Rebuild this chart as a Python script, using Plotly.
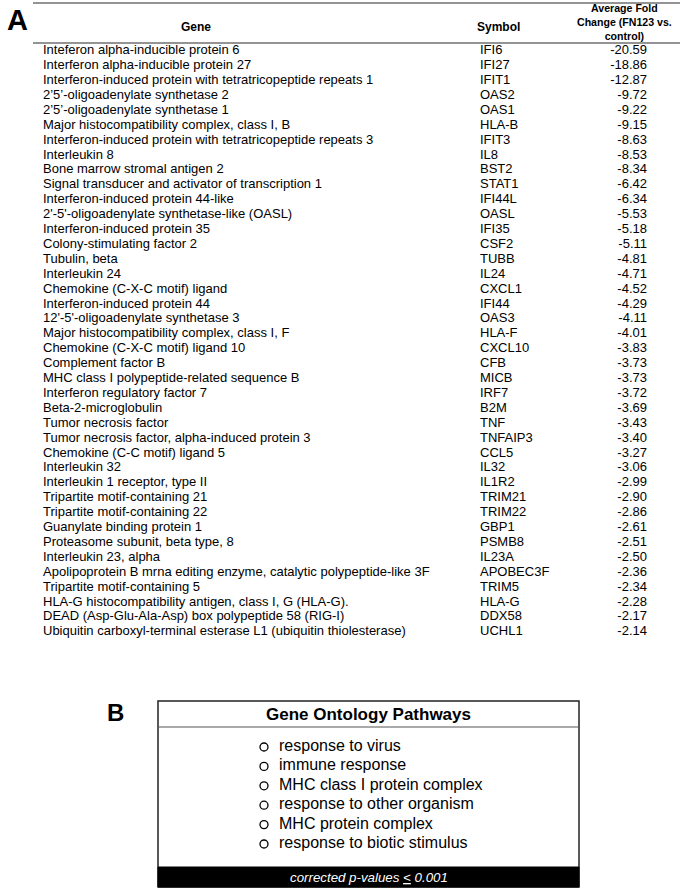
import plotly.graph_objects as go

genes = [
    "Inteferon alpha-inducible protein 6",
    "Interferon alpha-inducible protein 27",
    "Interferon-induced protein with tetratricopeptide repeats 1",
    "2’5’-oligoadenylate synthetase 2",
    "2’5’-oligoadenylate synthetase 1",
    "Major histocompatibility complex, class I, B",
    "Interferon-induced protein with tetratricopeptide repeats 3",
    "Interleukin 8",
    "Bone marrow stromal antigen 2",
    "Signal transducer and activator of transcription 1",
    "Interferon-induced protein 44-like",
    "2'-5'-oligoadenylate synthetase-like (OASL)",
    "Interferon-induced protein 35",
    "Colony-stimulating factor 2",
    "Tubulin, beta",
    "Interleukin 24",
    "Chemokine (C-X-C motif) ligand",
    "Interferon-induced protein 44",
    "12'-5'-oligoadenylate synthetase 3",
    "Major histocompatibility complex, class I, F",
    "Chemokine (C-X-C motif) ligand 10",
    "Complement factor B",
    "MHC class I polypeptide-related sequence B",
    "Interferon regulatory factor 7",
    "Beta-2-microglobulin",
    "Tumor necrosis factor",
    "Tumor necrosis factor, alpha-induced protein 3",
    "Chemokine (C-C motif) ligand 5",
    "Interleukin 32",
    "Interleukin 1 receptor, type II",
    "Tripartite motif-containing 21",
    "Tripartite motif-containing 22",
    "Guanylate binding protein 1",
    "Proteasome subunit, beta type, 8",
    "Interleukin 23, alpha",
    "Apolipoprotein B mrna editing enzyme, catalytic polypeptide-like 3F",
    "Tripartite motif-containing 5",
    "HLA-G histocompatibility antigen, class I, G (HLA-G).",
    "DEAD (Asp-Glu-Ala-Asp) box polypeptide 58 (RIG-I)",
    "Ubiquitin carboxyl-terminal esterase L1 (ubiquitin thiolesterase)",
]
symbols = [
    "IFI6", "IFI27", "IFIT1", "OAS2", "OAS1", "HLA-B", "IFIT3", "IL8", "BST2", "STAT1",
    "IFI44L", "OASL", "IFI35", "CSF2", "TUBB", "IL24", "CXCL1", "IFI44", "OAS3", "HLA-F",
    "CXCL10", "CFB", "MICB", "IRF7", "B2M", "TNF", "TNFAIP3", "CCL5", "IL32", "IL1R2",
    "TRIM21", "TRIM22", "GBP1", "PSMB8", "IL23A", "APOBEC3F", "TRIM5", "HLA-G", "DDX58", "UCHL1",
]
fold_change = [
    -20.59, -18.86, -12.87, -9.72, -9.22, -9.15, -8.63, -8.53, -8.34, -6.42,
    -6.34, -5.53, -5.18, -5.11, -4.81, -4.71, -4.52, -4.29, -4.11, -4.01,
    -3.83, -3.73, -3.73, -3.72, -3.69, -3.43, -3.40, -3.27, -3.06, -2.99,
    -2.90, -2.86, -2.61, -2.51, -2.50, -2.36, -2.34, -2.28, -2.17, -2.14,
]
header_labels = ["Gene", "Symbol", "Average Fold<br>Change (FN123 vs.<br>control)"]
pathways = [
    "response to virus",
    "immune response",
    "MHC class I protein complex",
    "response to other organism",
    "MHC protein complex",
    "response to biotic stimulus",
]
panel_b_title = "Gene Ontology Pathways"
panel_b_footer = "corrected p-values <span style='text-decoration:underline'>&lt;</span> 0.001"

FONT = "Liberation Sans, Arial, sans-serif"
W, H = 680, 891

# layout constants (pixel-like data coordinates)
row0, row_step = 51.0, 14.9
x_gene, x_sym, x_val = 43, 480, 647
ys = [row0 + i * row_step for i in range(len(genes))]
BODY = 13

fig = go.Figure()

fig.add_trace(go.Scatter(x=[x_gene] * len(genes), y=ys, mode="text", text=genes,
                         textposition="middle right",
                         textfont=dict(family=FONT, size=BODY, color="black"),
                         hoverinfo="skip", showlegend=False))
fig.add_trace(go.Scatter(x=[x_sym] * len(symbols), y=ys, mode="text", text=symbols,
                         textposition="middle right",
                         textfont=dict(family=FONT, size=BODY, color="black"),
                         hoverinfo="skip", showlegend=False))
fig.add_trace(go.Scatter(x=[x_val] * len(fold_change), y=ys, mode="text",
                         text=[f"{v:.2f}" for v in fold_change],
                         textposition="middle left",
                         textfont=dict(family=FONT, size=BODY, color="black"),
                         hoverinfo="skip", showlegend=False))

# headers
fig.add_annotation(x=196, y=27, text="<b>%s</b>" % header_labels[0], showarrow=False,
                   xref="x", yref="y", font=dict(family=FONT, size=12, color="black"))
fig.add_annotation(x=498, y=27, text="<b>%s</b>" % header_labels[1], showarrow=False,
                   xref="x", yref="y", font=dict(family=FONT, size=12, color="black"))
fig.add_annotation(x=624, y=22, text="<b>%s</b>" % header_labels[2], showarrow=False,
                   xref="x", yref="y", align="center",
                   font=dict(family=FONT, size=10.6, color="black"))

# panel labels
fig.add_annotation(x=17, y=20, text="<b>A</b>", showarrow=False, xref="x", yref="y",
                   font=dict(family=FONT, size=29, color="black"))
fig.add_annotation(x=115, y=712, text="<b>B</b>", showarrow=False, xref="x", yref="y",
                   font=dict(family=FONT, size=24, color="black"))

# table rules
fig.add_shape(type="line", x0=33, x1=680, y0=3, y1=3, xref="x", yref="y",
              line=dict(color="#707070", width=1.5))
fig.add_shape(type="line", x0=33, x1=680, y0=43, y1=43, xref="x", yref="y",
              line=dict(color="#707070", width=1.5))

# Panel B box
bx0, bx1, by0, by1 = 158, 579, 701, 887
fig.add_shape(type="rect", x0=bx0, x1=bx1, y0=by0, y1=by1, xref="x", yref="y",
              line=dict(color="#222222", width=1.5), fillcolor="rgba(0,0,0,0)")
fig.add_shape(type="line", x0=bx0, x1=bx1, y0=727, y1=727, xref="x", yref="y",
              line=dict(color="#555555", width=1))
fig.add_shape(type="rect", x0=bx0, x1=bx1, y0=867, y1=by1, xref="x", yref="y",
              line=dict(color="black", width=1), fillcolor="black")
fig.add_annotation(x=(bx0 + bx1) / 2, y=714.5, text="<b>%s</b>" % panel_b_title,
                   showarrow=False, xref="x", yref="y",
                   font=dict(family=FONT, size=17, color="black"))
fig.add_annotation(x=(bx0 + bx1) / 2, y=877, text="<i>%s</i>" % panel_b_footer,
                   showarrow=False, xref="x", yref="y",
                   font=dict(family=FONT, size=13.3, color="white"))

py0, pstep = 747, 19.4
pys = [py0 + i * pstep for i in range(len(pathways))]
fig.add_trace(go.Scatter(x=[264] * len(pathways), y=pys, mode="markers",
                         marker=dict(symbol="circle-open", size=8,
                                     line=dict(color="black", width=1.3), color="black"),
                         hoverinfo="skip", showlegend=False))
fig.add_trace(go.Scatter(x=[279] * len(pathways), y=pys, mode="text", text=pathways,
                         textposition="middle right",
                         textfont=dict(family=FONT, size=16, color="black"),
                         hoverinfo="skip", showlegend=False))

fig.update_xaxes(range=[0, W], visible=False, fixedrange=True)
fig.update_yaxes(range=[H, 0], visible=False, fixedrange=True)
fig.update_layout(width=W, height=H, margin=dict(l=0, r=0, t=0, b=0),
                  plot_bgcolor="white", paper_bgcolor="white", showlegend=False)

fig.write_html("out.html", config={"displayModeBar": False},
               post_script="document.body.style.margin='0px';")
